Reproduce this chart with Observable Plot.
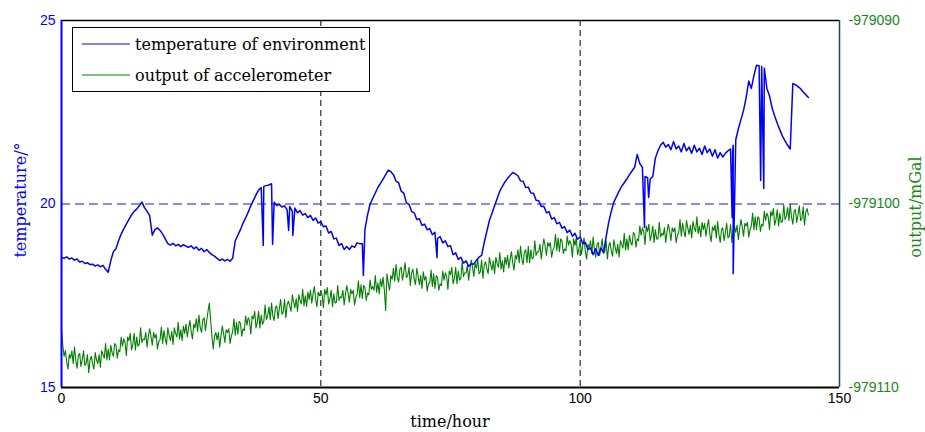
<!DOCTYPE html>
<html>
<head>
<meta charset="utf-8">
<script src="https://cdn.jsdelivr.net/npm/d3@7"></script>
<script src="https://cdn.jsdelivr.net/npm/@observablehq/plot@0.6"></script>
<style>
  body { margin: 0; background: white; }
  #chart svg { display: block; }
</style>
</head>
<body>
<div id="chart"></div>
<script>
// ---------- data ----------
const tempStepHours = 0.5;    // temperature sampled every half hour from t = 0
const accelStepHours = 0.25;  // accelerometer sampled every quarter hour from t = 0

// temperature of environment (°), one value per half hour, 0 … 144 h
const tempSamples = [
  18.55,18.52,18.56,18.50,18.53,18.47,18.50,18.42,18.44,18.38,18.40,18.35,18.36,18.31,18.34,18.29,18.33,18.22,18.14,18.45,
  18.70,18.78,19.00,19.18,19.32,19.45,19.58,19.70,19.80,19.86,19.95,20.05,19.90,19.80,19.68,19.15,19.30,19.35,19.28,19.18,
  19.05,18.92,18.88,18.93,18.86,18.90,18.84,18.89,18.85,18.82,18.86,18.78,18.83,18.74,18.79,18.70,18.76,18.68,18.62,18.58,
  18.52,18.46,18.50,18.45,18.49,18.44,18.52,19.00,19.15,19.30,19.48,19.62,19.78,19.95,20.10,20.25,20.38,20.45,20.48,20.50,
  20.52,20.55,20.05,19.96,19.99,19.92,19.95,19.84,19.93,19.80,19.89,19.76,19.82,19.70,19.74,19.63,19.69,19.55,19.62,19.48,
  19.52,19.38,19.40,19.21,19.25,19.05,19.07,18.87,18.92,18.76,18.84,18.76,18.86,18.82,18.94,18.92,18.92,19.30,19.70,20.00,
  20.15,20.30,20.45,20.56,20.68,20.80,20.92,20.88,20.80,20.62,20.58,20.35,20.29,20.03,19.99,19.80,19.76,19.58,19.60,19.42,
  19.45,19.30,19.33,19.16,19.23,19.06,19.11,18.94,19.00,18.84,18.86,18.62,18.67,18.49,18.55,18.39,18.45,18.30,18.37,18.36,
  18.47,18.55,18.60,18.95,19.25,19.55,19.75,19.95,20.15,20.35,20.48,20.60,20.70,20.78,20.86,20.82,20.77,20.63,20.62,20.45,
  20.46,20.30,20.29,20.10,20.09,19.93,19.94,19.76,19.79,19.59,19.63,19.46,19.50,19.34,19.38,19.22,19.29,19.12,19.20,19.04,
  19.11,18.92,18.95,18.76,18.80,18.62,18.78,18.60,18.80,18.68,19.10,19.50,19.80,20.05,20.20,20.35,20.48,20.58,20.68,20.80,
  20.90,21.00,21.35,21.10,21.00,20.75,20.72,20.68,20.75,21.25,21.45,21.60,21.68,21.55,21.62,21.48,21.70,21.50,21.58,21.42,
  21.65,21.45,21.55,21.38,21.60,21.42,21.52,21.35,21.58,21.40,21.50,21.30,21.48,21.25,21.40,21.28,21.38,21.45,21.50,21.60,
  21.75,22.05,22.30,22.55,22.90,23.35,23.15,23.50,23.78,23.77,23.75,23.70,23.15,22.95,22.62,22.40,22.20,22.02,21.85,21.72,
  21.60,21.50,23.28,23.25,23.20,23.14,23.05,22.98,22.90
];
// short downward spikes in the temperature record: [hour, °]
const tempSpikes = [
  [38.9,18.87],[40.7,18.90],[43.8,19.28],[44.6,19.14],[58.2,18.05],[72.4,18.54],
  [112.4,19.36],[113.2,20.18],[129.3,19.63],[129.4,21.40],[129.5,18.10],[134.8,20.64],[135.4,20.42]
];

// output of accelerometer, mGal relative to -979100, one value per quarter hour, 0 … 144 h
const accelBase = -979100;
const accelSamples = [
  -6.8,-7.7,-8.3,-8.0, -8.6,-9.0,-8.2,-8.4, -8.0,-8.7,-7.8,-8.5, -8.95,-8.25,-8.15,-8.85, -8.5,-8.0,-8.8,-8.7,
  -8.2,-9.2,-8.5,-8.3, -8.7,-9.0,-8.1,-8.5, -8.7,-8.2,-8.9,-8.0, -8.2,-8.4,-7.6,-8.5, -7.9,-8.5,-7.7,-8.1,
  -8.3,-7.6,-7.7,-8.4, -7.95,-8.05,-7.25,-7.75, -7.35,-7.55,-8.25,-7.25, -7.45,-7.05,-7.95,-7.65, -7.05,-7.95,-7.25,-7.75,
  -7.65,-6.75,-7.55,-7.35, -7.4,-7.0,-7.8,-7.2, -6.8,-7.2,-7.7,-7.0, -7.3,-7.1,-7.9,-7.5, -7.4,-6.7,-7.6,-6.9,
  -7.35,-7.65,-6.75,-7.15, -7.45,-6.95,-7.65,-6.75, -7.05,-7.25,-6.45,-7.35, -6.85,-7.45,-6.65,-7.05, -6.55,-7.25,-6.75,-6.35,
  -6.95,-7.35,-6.55,-6.75, -6.25,-6.95,-6.05,-6.75, -7.0,-6.3,-6.2,-6.9, -6.35,-5.85,-5.4,-6.3, -7.2,-7.9,-7.2,-7.0,
  -7.4,-7.0,-7.8,-7.2, -6.65,-7.05,-7.55,-6.85, -7.0,-6.8,-7.6,-7.2, -6.95,-6.25,-7.15,-6.45, -7.1,-6.4,-6.5,-7.2,
  -6.8,-6.9,-6.1,-6.6, -6.2,-6.4,-7.1,-6.1, -6.25,-5.85,-6.75,-6.45, -5.85,-6.75,-6.05,-6.55, -6.4,-5.5,-6.3,-6.1,
  -5.6,-6.3,-5.4,-6.1, -6.35,-5.65,-5.55,-6.25, -5.7,-5.2,-6.0,-5.9, -5.2,-6.2,-5.5,-5.3, -5.55,-5.85,-4.95,-5.35,
  -5.65,-5.15,-5.85,-4.95, -5.25,-5.45,-4.65,-5.55, -5.0,-5.6,-4.8,-5.2, -4.7,-5.4,-4.9,-4.5, -5.2,-5.6,-4.8,-5.0,
  -4.75,-4.95,-5.65,-4.65, -4.95,-4.55,-5.45,-5.15, -4.7,-5.6,-4.9,-5.4, -5.35,-4.45,-5.25,-5.05, -5.1,-4.7,-5.5,-4.9,
  -4.45,-4.85,-5.35,-4.65, -4.9,-4.7,-5.5,-5.1, -4.9,-4.2,-5.1,-4.4, -5.15,-4.45,-4.55,-5.25, -4.85,-4.95,-4.15,-4.65,
  -4.5,-4.7,-3.9,-4.8, -4.3,-4.9,-4.1,-4.5, -4.0,-4.7,-5.8,-3.8, -4.3,-4.7,-3.9,-4.1, -3.5,-4.2,-3.3,-4.0,
  -4.25,-3.55,-3.45,-4.15, -3.7,-3.2,-4.0,-3.9, -3.45,-4.45,-3.75,-3.55, -4.1,-4.4,-3.5,-3.9, -4.4,-3.9,-4.6,-3.7,
  -4.15,-3.95,-4.75,-4.35, -4.3,-3.6,-4.5,-3.8, -4.6,-3.9,-4.0,-4.7, -4.35,-4.45,-3.65,-4.15, -3.75,-3.95,-4.65,-3.65,
  -3.85,-3.45,-4.35,-4.05, -3.45,-4.35,-3.65,-4.15, -4.05,-3.15,-3.95,-3.75, -3.75,-3.35,-4.15,-3.55, -3.05,-3.45,-3.95,-3.25,
  -3.5,-3.0,-3.8,-3.7, -3.05,-4.05,-3.35,-3.15, -3.5,-3.8,-2.9,-3.3, -3.6,-3.1,-3.8,-2.9, -3.25,-3.45,-2.65,-3.55,
  -3.1,-3.7,-2.9,-3.3, -2.8,-3.5,-3.0,-2.6, -3.2,-3.6,-2.8,-3.0, -2.5,-3.2,-2.3,-3.0, -3.3,-2.6,-2.5,-3.2,
  -2.3,-3.2,-2.5,-3.0, -2.9,-2.0,-2.8,-2.6, -2.6,-2.2,-3.0,-2.4, -1.9,-2.3,-2.8,-2.1, -2.3,-2.1,-2.9,-2.5,
  -2.35,-1.65,-2.55,-1.85, -2.6,-1.9,-2.0,-2.7, -2.45,-2.55,-1.75,-2.25, -2.0,-2.2,-2.9,-1.9, -2.25,-1.85,-2.75,-2.45,
  -2.05,-2.75,-2.25,-1.85, -2.6,-3.0,-2.2,-2.4, -2.0,-2.7,-1.8,-2.5, -2.9,-2.2,-2.1,-2.8, -2.4,-1.9,-2.7,-2.6,
  -2.0,-3.0,-2.3,-2.1, -2.55,-2.85,-1.95,-2.35, -2.7,-2.2,-2.9,-2.0, -2.2,-2.4,-1.6,-2.5, -1.9,-2.5,-1.7,-2.1,
  -2.25,-1.55,-1.65,-2.35, -1.9,-2.0,-1.2,-1.7, -1.3,-1.5,-2.2,-1.2, -1.5,-1.1,-2.0,-1.7, -1.2,-2.1,-1.4,-1.9,
  -1.9,-1.0,-1.8,-1.6, -1.7,-1.3,-2.1,-1.5, -1.1,-1.5,-2.0,-1.3, -1.5,-1.3,-2.1,-1.7, -1.55,-0.85,-1.75,-1.05,
  -1.5,-1.8,-0.9,-1.3, -1.65,-1.15,-1.85,-0.95, -1.3,-1.5,-0.7,-1.6, -1.2,-1.8,-1.0,-1.4, -1.05,-1.75,-1.25,-0.85,
  -1.65,-2.05,-1.25,-1.45, -1.15,-1.85,-0.95,-1.65, -2.1,-1.4,-1.3,-2.0, -1.55,-1.05,-1.85,-1.75, -1.1,-2.1,-1.4,-1.2,
  -1.55,-1.15,-1.95,-1.35, -0.85,-1.25,-1.75,-1.05, -1.2,-1.0,-1.8,-1.4, -1.2,-0.5,-1.4,-0.7, -1.4,-0.7,-0.8,-1.5,
  -1.1,-1.2,-0.4,-0.9, -0.5,-0.7,-1.4,-0.4, -0.65,-0.25,-1.15,-0.85, -0.3,-1.2,-0.5,-1.0, -0.95,-0.05,-0.85,-0.65,
  -0.2,-0.9,0.0,-0.7, -1.1,-0.4,-0.3,-1.0, -0.6,-0.1,-0.9,-0.8, -0.15,-1.15,-0.45,-0.25,
  -0.6
];

// axes
const xDomain = [0, 150];
const xTicks = [0, 50, 100, 150];
const xGrid = [50, 100];
const tempDomain = [15, 25];
const tempTicks = [15, 20, 25];
const tempGrid = [20];
const accelDomain = [-979110, -979090];
const accelTickLabels = ["-979110", "-979100", "-979090"];

const seriesNames = ["temperature of environment", "output of accelerometer"];
const seriesColors = ["#0000ff", "#008000"];

// ---------- build tables ----------
const tempRows = tempSamples.map((v, i) => ({t: i * tempStepHours, v}))
  .concat(tempSpikes.map(([t, v]) => ({t, v})))
  .sort((a, b) => a.t - b.t);

// map accelerometer values onto the temperature scale (shared plot area, right axis)
const toTemp = d3.scaleLinear().domain(accelDomain).range(tempDomain);
const accelRows = accelSamples.map((v, i) => ({t: i * accelStepHours, v: toTemp(accelBase + v)}));

const W = 925, H = 432;
const mL = 61, mR = 86, mT = 20, mB = 45;

const chart = Plot.plot({
  width: W, height: H,
  marginLeft: mL, marginRight: mR, marginTop: mT, marginBottom: mB,
  style: {fontFamily: "'Liberation Sans', Arial, sans-serif", fontSize: "14px", background: "white"},
  x: {domain: xDomain},
  y: {domain: tempDomain},
  marks: [
    Plot.ruleX(xGrid, {stroke: "black", strokeDasharray: "6,4", strokeWidth: 1}),
    Plot.ruleY(tempGrid, {stroke: "#6262ff", strokeDasharray: "9,5", strokeWidth: 1.3}),
    Plot.line(accelRows, {x: "t", y: "v", stroke: seriesColors[1], strokeWidth: 1.1}),
    Plot.line(tempRows, {x: "t", y: "v", stroke: seriesColors[0], strokeWidth: 1.5}),
    Plot.ruleY([tempDomain[1]], {stroke: "black", strokeWidth: 1.5}),
    Plot.ruleY([tempDomain[0]], {stroke: "black", strokeWidth: 2}),
    Plot.ruleX([xDomain[0]], {stroke: "#0000ff", strokeWidth: 2}),
    Plot.ruleX([xDomain[1]], {stroke: "#174a5a", strokeWidth: 1.5}),
    Plot.axisX({ticks: xTicks, tickSize: 0, tickPadding: 6, label: null, fill: "black", fontSize: 14}),
    Plot.axisY({anchor: "left", ticks: tempTicks, tickSize: 0, tickPadding: 6, label: null, fill: "#0000ff", fontSize: 14}),
    Plot.axisY({anchor: "right", ticks: tempTicks, tickSize: 0, tickPadding: 9, label: null, fill: "#158a15", fontSize: 14,
      tickFormat: (d) => accelTickLabels[tempTicks.indexOf(d)]})
  ]
});

document.getElementById("chart").appendChild(chart);

// ---------- titles and legend ----------
const svg = d3.select(chart);
const serif = "'DejaVu Serif', 'Liberation Serif', serif";

svg.append("text")
  .attr("x", 450).attr("y", 427)
  .attr("text-anchor", "middle")
  .attr("font-family", serif).attr("font-size", 16).attr("fill", "black")
  .text("time/hour");

svg.append("text")
  .attr("transform", "translate(26,200) rotate(-90)")
  .attr("text-anchor", "middle")
  .attr("font-family", serif).attr("font-size", 16).attr("fill", "#0000ff")
  .text("temperature/°");

svg.append("text")
  .attr("transform", "translate(921,207) rotate(-90)")
  .attr("text-anchor", "middle")
  .attr("font-family", serif).attr("font-size", 16).attr("fill", "#158a15")
  .text("output/mGal");

const lg = svg.append("g");
lg.append("rect")
  .attr("x", 72.5).attr("y", 27.5).attr("width", 297).attr("height", 64)
  .attr("fill", "white").attr("stroke", "black").attr("stroke-width", 1);
seriesNames.forEach((name, i) => {
  const y = 44 + i * 31;
  lg.append("line").attr("x1", 82).attr("x2", 130).attr("y1", y).attr("y2", y)
    .attr("stroke", seriesColors[i]).attr("stroke-width", 1);
  lg.append("text").attr("x", 135).attr("y", y).attr("dy", "0.35em")
    .attr("text-anchor", "start")
    .attr("font-family", serif).attr("font-size", 16).attr("fill", "black")
    .text(name);
});
</script>
</body>
</html>
